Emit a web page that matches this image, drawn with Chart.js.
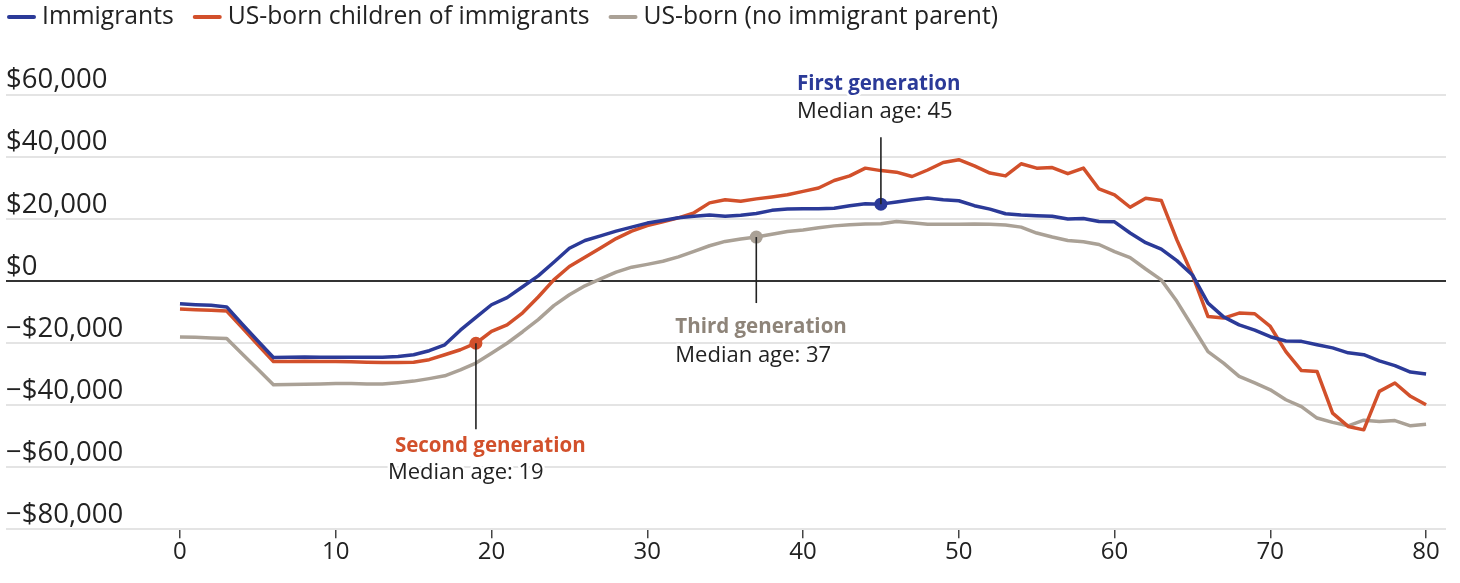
<!DOCTYPE html>
<html>
<head>
<meta charset="utf-8">
<title>Net fiscal contribution by age and generation</title>
<script src="https://cdn.jsdelivr.net/npm/chart.js@4.4.1/dist/chart.umd.min.js"></script>
<style>
  html, body { margin: 0; padding: 0; background: #ffffff; }
  #wrap { width: 1460px; height: 583px; position: relative; }
</style>
</head>
<body>
<div id="wrap"><canvas id="chart" width="1460" height="583"></canvas></div>
<script>
// Age in years (x values)
const ages = [
  0, 1, 2, 3, 4, 5, 6, 7, 8, 9,
  10, 11, 12, 13, 14, 15, 16, 17, 18, 19,
  20, 21, 22, 23, 24, 25, 26, 27, 28, 29,
  30, 31, 32, 33, 34, 35, 36, 37, 38, 39,
  40, 41, 42, 43, 44, 45, 46, 47, 48, 49,
  50, 51, 52, 53, 54, 55, 56, 57, 58, 59,
  60, 61, 62, 63, 64, 65, 66, 67, 68, 69,
  70, 71, 72, 73, 74, 75, 76, 77, 78, 79, 80
];

// Net contribution in dollars, first generation
const immigrants = [
  -7400, -7700, -7900, -8400, -14000, -19400, -24700, -24600, -24500, -24600,
  -24600, -24600, -24600, -24600, -24400, -23800, -22500, -20600, -15900, -11800,
  -7700, -5400, -1900, 1600, 6000, 10500, 13000, 14500, 16000, 17300,
  18600, 19400, 20300, 20800, 21200, 20800, 21100, 21700, 22700, 23100,
  23200, 23200, 23400, 24200, 24800, 24700, 25400, 26100, 26700, 26100,
  25800, 24200, 23100, 21600, 21200, 21000, 20800, 19900, 20100, 19100,
  19000, 15400, 12300, 10200, 6500, 1900, -7200, -11600, -14200, -15900,
  -18000, -19400, -19500, -20600, -21600, -23200, -23800, -25800, -27300, -29400, -30000
];

// Second generation
const usBornChildren = [
  -9100, -9300, -9500, -9700, -15100, -20600, -26000, -26000, -25900, -26000,
  -26000, -26100, -26200, -26300, -26300, -26200, -25400, -23800, -22200, -20100,
  -16300, -14200, -10300, -5200, 300, 4600, 7600, 10600, 13600, 16000,
  17800, 19000, 20300, 21900, 25100, 26100, 25600, 26400, 27000, 27700,
  28800, 29900, 32300, 33800, 36300, 35500, 35000, 33600, 35700, 38100,
  39000, 37000, 34700, 33800, 37700, 36300, 36500, 34500, 36300, 29600,
  27700, 23700, 26600, 25900, 13200, 1900, -11500, -12000, -10400, -10600,
  -14700, -22800, -28900, -29200, -42600, -46900, -48000, -35600, -32900, -37200, -39900
];

// Third generation and later
const usBornNative = [
  -18100, -18200, -18400, -18600, -23600, -28500, -33500, -33400, -33300, -33200,
  -33100, -33100, -33200, -33200, -32800, -32300, -31500, -30600, -28700, -26500,
  -23300, -20100, -16400, -12500, -8000, -4500, -1600, 600, 2800, 4400,
  5300, 6300, 7700, 9500, 11300, 12700, 13500, 14100, 15000, 15900,
  16400, 17100, 17700, 18100, 18300, 18400, 19100, 18700, 18200, 18200,
  18200, 18300, 18200, 18000, 17300, 15400, 14100, 13000, 12600, 11700,
  9400, 7500, 3800, 300, -6600, -14700, -22800, -26500, -30800, -32900,
  -35100, -38300, -40500, -44200, -45600, -46700, -44900, -45300, -45000, -46700, -46200
];

const seriesNames = ['Immigrants', 'US-born children of immigrants', 'US-born (no immigrant parent)'];
const medianAges = [45, 19, 37];
const generationTitles = ['First generation', 'Second generation', 'Third generation'];

const xTickValues = [0, 10, 20, 30, 40, 50, 60, 70, 80];
const yTickValues = [-80000, -60000, -40000, -20000, 0, 20000, 40000, 60000];
const yTickLabels = ['\u2212$80,000', '\u2212$60,000', '\u2212$40,000', '\u2212$20,000', '$0', '$20,000', '$40,000', '$60,000'];

const BLUE = '#2b3a98';
const RED = '#d2502b';
const GRAY = '#aaa196';
const GRAY_TEXT = '#8e8479';
const INK = '#222222';
const FONT = '"Open Sans", "Liberation Sans", sans-serif';

const seriesValues = [immigrants, usBornChildren, usBornNative];
const seriesColors = [BLUE, RED, GRAY];
const titleColors = [BLUE, RED, GRAY_TEXT];

function makeDataset(k) {
  const values = seriesValues[k];
  return {
    label: seriesNames[k],
    data: ages.map((a, i) => ({ x: a, y: values[i] })),
    borderColor: seriesColors[k],
    backgroundColor: seriesColors[k],
    borderWidth: 3.5,
    borderJoinStyle: 'round',
    tension: 0,
    pointRadius: ages.map(a => (a === medianAges[k] ? 6.5 : 0)),
    pointBackgroundColor: seriesColors[k],
    pointBorderWidth: 0,
    pointHoverRadius: 0
  };
}

// Single-row legend with short line swatches across the top
const lineLegendPlugin = {
  id: 'lineLegend',
  afterDraw(chart, args, opts) {
    const { ctx } = chart;
    ctx.save();
    ctx.font = opts.fontSize + 'px ' + FONT;
    ctx.textBaseline = 'middle';
    ctx.textAlign = 'left';
    let x = opts.x;
    chart.data.datasets.forEach(ds => {
      ctx.strokeStyle = ds.borderColor;
      ctx.lineWidth = opts.lineWidth;
      ctx.lineCap = 'round';
      ctx.beginPath();
      ctx.moveTo(x, opts.y);
      ctx.lineTo(x + opts.markerWidth, opts.y);
      ctx.stroke();
      x += opts.markerWidth + opts.markerGap;
      ctx.fillStyle = INK;
      ctx.fillText(ds.label, x, opts.y);
      x += ctx.measureText(ds.label).width + opts.itemGap;
    });
    ctx.restore();
  }
};

// Stems and labels pointing at each generation's median age
const calloutPlugin = {
  id: 'callouts',
  afterDatasetsDraw(chart, args, opts) {
    const { ctx } = chart;
    const xs = chart.scales.x, ys = chart.scales.y;
    opts.items.forEach(item => {
      const k = item.series;
      const age = medianAges[k];
      const value = seriesValues[k][ages.indexOf(age)];
      const px = xs.getPixelForValue(age);
      const py = ys.getPixelForValue(value);
      ctx.save();
      ctx.strokeStyle = INK;
      ctx.lineWidth = 1.6;
      ctx.beginPath();
      ctx.moveTo(px, py);
      ctx.lineTo(px, py + item.stem);
      ctx.stroke();

      ctx.textAlign = 'left';
      ctx.textBaseline = 'alphabetic';
      ctx.lineJoin = 'round';
      ctx.strokeStyle = '#ffffff';
      ctx.lineWidth = 5;

      ctx.font = 'bold 20.5px ' + FONT;
      ctx.strokeText(generationTitles[k], px + item.titleDx, py + item.titleDy);
      ctx.fillStyle = titleColors[k];
      ctx.fillText(generationTitles[k], px + item.titleDx, py + item.titleDy);

      const sub = 'Median age: ' + age;
      ctx.font = '22px ' + FONT;
      ctx.strokeText(sub, px + item.subDx, py + item.subDy);
      ctx.fillStyle = INK;
      ctx.fillText(sub, px + item.subDx, py + item.subDy);
      ctx.restore();
    });
  }
};

Chart.register(lineLegendPlugin, calloutPlugin);

new Chart(document.getElementById('chart'), {
  type: 'line',
  data: { datasets: [makeDataset(0), makeDataset(1), makeDataset(2)] },
  options: {
    responsive: false,
    animation: false,
    devicePixelRatio: 1,
    events: [],
    layout: { padding: { left: 6, right: 14, top: 63.5, bottom: 16 } },
    plugins: {
      tooltip: { enabled: false },
      legend: { display: false },
      lineLegend: { x: 9, y: 17, fontSize: 24.7, lineWidth: 4, markerWidth: 25, markerGap: 8, itemGap: 21 },
      callouts: {
        items: [
          { series: 0, stem: -67, titleDx: -84, titleDy: -114, subDx: -84, subDy: -86 },
          { series: 1, stem: 86, titleDx: -81, titleDy: 109, subDx: -88, subDy: 136 },
          { series: 2, stem: 66, titleDx: -81, titleDy: 96, subDx: -81, subDy: 125 }
        ]
      }
    },
    scales: {
      x: {
        type: 'linear',
        min: -11.17,
        max: 81.28,
        afterBuildTicks: s => { s.ticks = xTickValues.map(v => ({ value: v })); },
        ticks: {
          autoSkip: false,
          maxRotation: 0,
          padding: 0,
          color: INK,
          font: { family: FONT, size: 24 },
          callback: v => String(v)
        },
        grid: { drawOnChartArea: false, drawTicks: true, tickLength: 9, color: '#444444', lineWidth: 1.5 },
        border: { display: false }
      },
      y: {
        min: -80000,
        max: 70000,
        afterBuildTicks: s => { s.ticks = yTickValues.map(v => ({ value: v })); },
        ticks: {
          mirror: true,
          padding: 0,
          labelOffset: -14,
          color: INK,
          font: { family: FONT, size: 27.5 },
          callback: v => yTickLabels[yTickValues.indexOf(v)]
        },
        grid: {
          drawTicks: false,
          color: c => (c.tick && c.tick.value === 0 ? '#333333' : '#e4e4e4'),
          lineWidth: 2
        },
        border: { display: false }
      }
    }
  }
});
</script>
</body>
</html>
